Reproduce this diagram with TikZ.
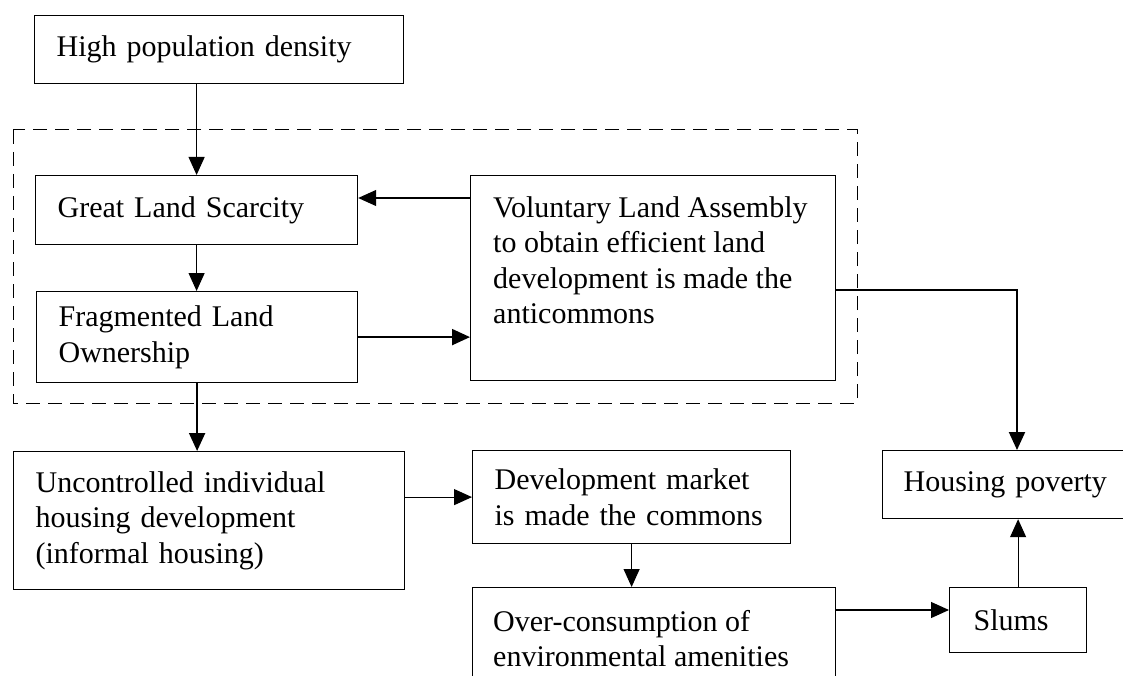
\documentclass[tikz,border=0pt]{standalone}
\usepackage{fontspec}
\setmainfont{Liberation Serif}
\usetikzlibrary{arrows.meta,calc}
\begin{document}
\begin{tikzpicture}[x=1pt,y=-1pt,
  box/.style={draw, line width=1.2pt, inner sep=0pt, anchor=north west},
  tbox/.style={box, align=left, inner xsep=22pt, font=\fontsize{30}{35.5}\selectfont},
  txt/.style={inner sep=0pt, align=left, anchor=west, font=\fontsize{30}{35.5}\selectfont},
  arr/.style={line width=1.1pt, -{Triangle[length=18pt,width=16pt]}},
  tarr/.style={arr, line width=2pt},
  grp/.style={draw, line width=1pt, dash pattern=on 14pt off 8pt}
]
\useasboundingbox (0,0) rectangle (1123,676);
\clip (0,0) rectangle (1123,676);

% dashed group
\draw[grp] (13,130) rectangle (857,403);

% boxes
\node[tbox, minimum width=369pt, minimum height=68pt, text width=325pt] (hpd) at (34,15) {High population density};
\node[tbox, minimum width=322pt, minimum height=69pt, text width=278pt] (gls) at (35,175) {Great Land Scarcity};
\node[tbox, minimum width=321pt, minimum height=91pt, text width=277pt] (flo) at (36,291) {Fragmented Land\\Ownership};
\node[box, minimum width=365pt, minimum height=205pt] (vla) at (470,175) {};
\node[txt] (vlat) at ($(vla.north west)+(23,85)$) {Voluntary Land Assembly\\to obtain efficient land\\development is made the\\anticommons};
\node[tbox, minimum width=391pt, minimum height=138pt, text width=347pt] (uih) at (13,451) {Uncontrolled individual\\housing development\\(informal housing)};
\node[tbox, minimum width=318pt, minimum height=93pt, text width=274pt] (dmc) at (472,450) {Development market\\is made the commons};
\node[tbox, inner xsep=21pt, minimum width=280pt, minimum height=68pt, text width=238pt] (hp) at (882,450) {Housing poverty};
\node[box, minimum width=363pt, minimum height=140pt] (oce) at (472,587) {};
\node[txt] (ocet) at ($(oce.north west)+(21,51.5)$) {Over-consumption of\\environmental amenities};
\node[tbox, inner xsep=24pt, minimum width=137pt, minimum height=65pt, text width=89pt] (slums) at (949,587) {Slums};

% connectors
\draw[arr] (hpd.south -| gls.north) -- (gls.north);
\draw[arr] (gls.south) -- (gls.south |- flo.north);
\draw[tarr] (flo.south) -- (flo.south |- uih.north);
\coordinate (vlaA) at ($(vla.north west)+(0,23)$);
\draw[arr] (vlaA) -- (vlaA -| gls.east);
\draw[tarr] (flo.east) -- (flo.east -| vla.west);
\coordinate (vlaB) at ($(vla.north east)+(0,115)$);
\coordinate (hpN) at ($(hp.north west)+(135,0)$);
\draw[tarr] (vlaB) -| (hpN);
\draw[arr] (dmc.west -| uih.east) -- (dmc.west);
\draw[arr] (dmc.south) -- (dmc.south |- oce.north);
\coordinate (oceA) at ($(oce.north east)+(0,23)$);
\draw[arr] (oceA) -- (oceA -| slums.west);
\draw[arr] (slums.north) -- (slums.north |- hp.south);
\end{tikzpicture}
\end{document}
